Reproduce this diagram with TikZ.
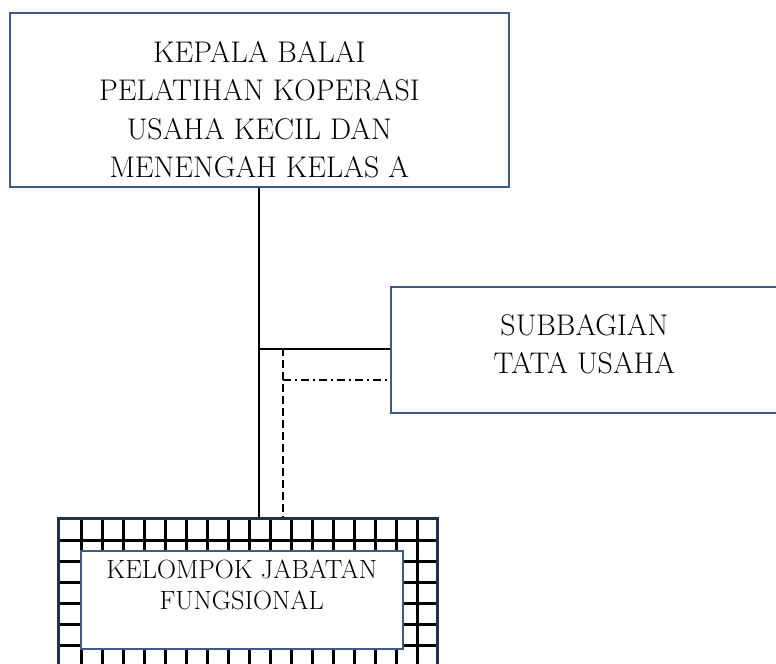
\documentclass[tikz,border=0pt]{standalone}
\usepackage{tikz}
\usetikzlibrary{calc}
\definecolor{boxblue}{RGB}{62,90,130}
\definecolor{gridnavy}{RGB}{30,50,80}
\tikzset{
	unitbox/.style={draw=boxblue, line width=1pt, fill=white, inner sep=0pt, align=center},
	bigfont/.style={font=\fontsize{17}{21.8}\selectfont},
	smallfont/.style={font=\fontsize{15}{17.6}\selectfont},
	linkline/.style={line width=1.1pt, black},
	coordline/.style={line width=0.8pt, black, dash pattern=on 0.16cm off 0.08cm},
	coorddot/.style={line width=0.8pt, black, dash pattern=on 0.16cm off 0.08cm on 0.04cm off 0.08cm}
}

\begin{document}
\begin{tikzpicture}[x=0.02cm, y=-0.02cm]
	%%%%% START %%%%%
	\useasboundingbox (0,0) rectangle (776,663);
	
	\node[unitbox, bigfont, minimum width=9.98cm, minimum height=3.48cm] (kepala) at (259.3,100)
		{\rule{0pt}{0.81cm}KEPALA BALAI\\PELATIHAN KOPERASI\\USAHA KECIL DAN\\MENENGAH KELAS A};
	
	\node[unitbox, bigfont, minimum width=7.75cm, minimum height=2.51cm] (subbag) at (584.4,350)
		{SUBBAGIAN\\TATA USAHA\rule[-0.24cm]{0pt}{0.24cm}};
	
	% grid box
	\begin{scope}
		\clip (58.3,518) rectangle (437.7,680);
		\foreach \gx in {0,...,16}
			\draw[line width=1.4pt] (81.7+21*\gx,518) -- (81.7+21*\gx,680);
		\foreach \gy in {0,...,6}
			\draw[line width=1.4pt] (58.3,540.7+21*\gy) -- (437.7,540.7+21*\gy);
	\end{scope}
	\node[draw=gridnavy, line width=1.7pt, inner sep=0pt, minimum width=7.59cm, minimum height=3.24cm] (jfgrid) at (248,599) {};
	
	\node[unitbox, smallfont, minimum width=6.44cm, minimum height=1.97cm] (kelompok) at (241.7,600)
		{KELOMPOK JABATAN\\FUNGSIONAL\rule[-0.6cm]{0pt}{0.6cm}};
	
	% lines
	\coordinate (tap) at ($(kepala.south)+(0,161)$);
	\coordinate (dtop) at (283,348);
	\coordinate (dmid) at (283,380);
	
	\draw[linkline] (kepala.south) -- (kepala.south |- jfgrid.north);
	\draw[linkline] (tap) -- (tap -| subbag.west);
	\draw[coordline] (dtop) -- (dtop |- jfgrid.north);
	\draw[coorddot] (dmid) -- (dmid -| subbag.west);
	
	%%%%% END %%%%%
\end{tikzpicture}
\end{document}
